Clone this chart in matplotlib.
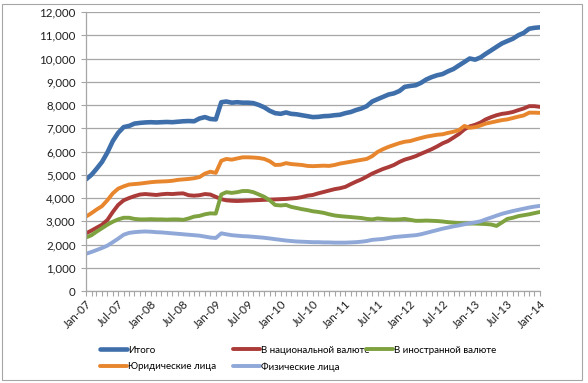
import numpy as np
import pandas as pd
import matplotlib
matplotlib.use("Agg")
import matplotlib.pyplot as plt
import matplotlib.dates as mdates
from matplotlib.patches import Rectangle

# monthly data, Jan-2007 .. Jan-2014 (bn tenge)
months = pd.date_range("2007-01-01", "2014-01-01", freq="MS")

total = [4800, 5000, 5250, 5550, 5950, 6450, 6800, 7050, 7100, 7200, 7230, 7250,
         7260, 7250, 7260, 7270, 7260, 7280, 7300, 7310, 7300, 7420, 7480, 7400,
         7380, 8120, 8150, 8100, 8120, 8100, 8100, 8080, 8000, 7900, 7750, 7650,
         7620, 7680, 7620, 7600, 7560, 7520, 7480, 7490, 7520, 7530, 7560, 7580,
         7650, 7700, 7780, 7850, 7950, 8150, 8250, 8350, 8450, 8500, 8600, 8780,
         8820, 8850, 8950, 9100, 9200, 9280, 9330, 9450, 9550, 9700, 9850, 10000,
         9950, 10050, 10200, 10350, 10500, 10650, 10750, 10850, 11000, 11100, 11280, 11320,
         11340]

national = [2480, 2600, 2720, 2850, 3050, 3400, 3700, 3900, 4000, 4080, 4150, 4170,
            4150, 4130, 4160, 4180, 4170, 4190, 4200, 4120, 4100, 4120, 4170, 4150,
            4050, 3950, 3900, 3880, 3870, 3880, 3890, 3900, 3910, 3920, 3930, 3940,
            3950, 3960, 3980, 4000, 4040, 4100, 4130, 4200, 4260, 4320, 4380, 4420,
            4480, 4600, 4700, 4800, 4920, 5050, 5150, 5250, 5330, 5420, 5550, 5650,
            5720, 5800, 5900, 6000, 6100, 6220, 6350, 6450, 6600, 6750, 6950, 7080,
            7150, 7250, 7380, 7480, 7560, 7620, 7650, 7700, 7780, 7850, 7950, 7950,
            7920]

foreign = [2300, 2400, 2550, 2700, 2850, 2980, 3080, 3150, 3150, 3100, 3080, 3080,
           3090, 3080, 3080, 3070, 3080, 3080, 3060, 3120, 3200, 3230, 3300, 3340,
           3330, 4150, 4250, 4220, 4250, 4300, 4300, 4250, 4150, 4050, 3900, 3700,
           3680, 3700, 3620, 3570, 3520, 3480, 3430, 3400, 3360, 3300, 3250, 3220,
           3200, 3180, 3160, 3140, 3100, 3080, 3120, 3100, 3080, 3070, 3080, 3100,
           3060, 3020, 3020, 3030, 3020, 3010, 2990, 2960, 2940, 2920, 2910, 2900,
           2900, 2890, 2880, 2860, 2800, 2950, 3100, 3150, 3220, 3260, 3300, 3350,
           3400]

legal = [3200, 3350, 3500, 3650, 3900, 4200, 4400, 4500, 4580, 4600, 4620, 4650,
         4680, 4700, 4710, 4720, 4740, 4780, 4800, 4820, 4850, 4900, 5050, 5130,
         5080, 5600, 5680, 5650, 5700, 5750, 5750, 5740, 5720, 5680, 5580, 5420,
         5430, 5500, 5460, 5440, 5420, 5380, 5370, 5380, 5390, 5380, 5420, 5480,
         5520, 5560, 5600, 5640, 5680, 5800, 5980, 6100, 6200, 6280, 6360, 6420,
         6450, 6520, 6580, 6640, 6680, 6720, 6740, 6800, 6850, 6920, 7100, 7020,
         7050, 7120, 7200, 7250, 7300, 7350, 7380, 7440, 7500, 7550, 7670, 7670,
         7660]

individuals = [1600, 1680, 1760, 1850, 1950, 2100, 2250, 2420, 2500, 2530, 2550, 2560,
               2550, 2530, 2520, 2500, 2480, 2460, 2440, 2420, 2400, 2380, 2340, 2300,
               2280, 2480, 2440, 2400, 2380, 2360, 2350, 2330, 2310, 2290, 2260, 2230,
               2200, 2170, 2150, 2130, 2120, 2110, 2100, 2100, 2090, 2090, 2080, 2080,
               2080, 2090, 2100, 2120, 2150, 2200, 2220, 2240, 2280, 2320, 2340, 2360,
               2380, 2400, 2440, 2500, 2560, 2620, 2680, 2730, 2780, 2820, 2870, 2910,
               2950, 3000, 3080, 3160, 3240, 3320, 3380, 3440, 3490, 3540, 3590, 3630,
               3660]

labels = ["Итого", "В национальной валюте", "В иностранной валюте",
          "Юридические лица", "Физические лица"]
colors = ["#3f6faa", "#aa3b38", "#7ea23f", "#e8862e", "#8fa8d8"]

plt.rcParams['font.family'] = ['Lato', 'DejaVu Sans']

fig = plt.figure(figsize=(5.88, 3.83), dpi=100)
W, H = 588, 383
ax = fig.add_axes([86 / W, 1 - 291 / H, (540 - 86) / W, (291 - 12) / H])

series = [total, national, foreign, legal, individuals]
widths = [3.3, 2.8, 2.8, 2.8, 2.8]
handles = []
for vals, lab, col, lw in zip(series, labels, colors, widths):
    h, = ax.plot(months, vals, color=col, lw=lw, label=lab,
                 solid_capstyle='round', solid_joinstyle='round')
    handles.append(h)

ax.set_ylim(0, 12000)
ax.set_xlim(months[0], months[-1])
ax.set_yticks(np.arange(0, 12001, 1000))
ax.yaxis.set_major_formatter(matplotlib.ticker.FuncFormatter(lambda v, p: f"{int(v):,}"))
ax.yaxis.grid(True, color='#a6a6a6', lw=0.9)
ax.set_axisbelow(True)

ax.xaxis.set_major_locator(mdates.MonthLocator(bymonth=[1, 7]))
ax.xaxis.set_minor_locator(mdates.MonthLocator())
ax.xaxis.set_major_formatter(mdates.DateFormatter('%b-%y'))
plt.setp(ax.get_xticklabels(), rotation=45, ha='right', rotation_mode='anchor')

for s in ['top', 'right']:
    ax.spines[s].set_visible(False)
for s in ['left', 'bottom']:
    ax.spines[s].set_color('#a6a6a6')
    ax.spines[s].set_linewidth(0.9)
ax.tick_params(axis='both', which='both', color='#a6a6a6', direction='out',
               length=3.5, width=0.8, labelsize=8.3, labelcolor='#1f1f1f')
ax.tick_params(axis='y', pad=4)
ax.tick_params(axis='x', pad=2)

# legend in three columns like the Excel original
leg_kw = dict(frameon=False, fontsize=7, handlelength=2.8, handletextpad=0.15,
              labelspacing=0.75, loc='upper left')
fig.legend([handles[0], handles[3]], [labels[0], labels[3]],
           bbox_to_anchor=(91 / W, 1 - 337 / H), **leg_kw)
fig.legend([handles[1], handles[4]], [labels[1], labels[4]],
           bbox_to_anchor=(224 / W, 1 - 337 / H), **leg_kw)
fig.legend([handles[2]], [labels[2]],
           bbox_to_anchor=(357 / W, 1 - 337 / H), **leg_kw)

# chart frame
fig.patches.append(Rectangle((2 / W, 1 - 380 / H), 580 / W, 376 / H,
                             transform=fig.transFigure, fill=False,
                             edgecolor='#a6a6a6', lw=0.8))

fig.savefig("out.png", dpi=100)
